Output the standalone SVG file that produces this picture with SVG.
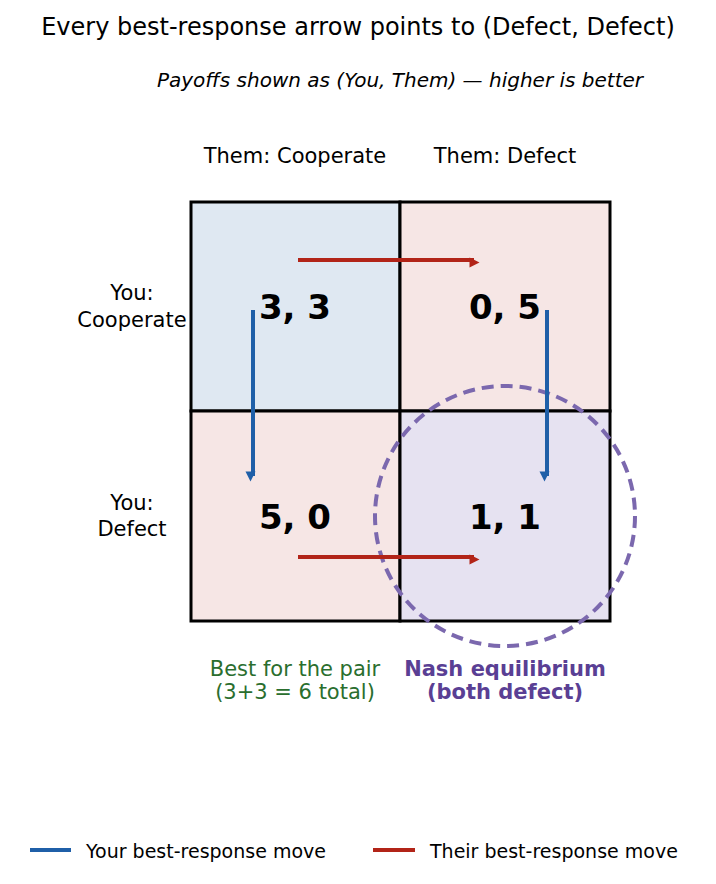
<svg xmlns="http://www.w3.org/2000/svg" width="716" height="884" viewBox="0 0 716 884">
<style>
text{font-family:"DejaVu Sans",sans-serif;fill:#000}
.pay{font-size:34px;font-weight:bold;text-anchor:middle}
.lab{font-size:21px;text-anchor:middle}
.cell{stroke:#000;stroke-width:3}
.blue{stroke:#1f5fa8;stroke-width:4;fill:none}
.red{stroke:#b22418;stroke-width:4;fill:none}
</style>
<defs>
<marker id="ab" viewBox="0 0 10 10" refX="9" refY="5" markerWidth="5" markerHeight="5" markerUnits="userSpaceOnUse" orient="auto" style="overflow:visible"><path d="M0,0L10,5L0,10Z" fill="#1f5fa8" transform="scale(2)"/></marker>
<marker id="ar" viewBox="0 0 10 10" refX="9" refY="5" markerWidth="5" markerHeight="5" markerUnits="userSpaceOnUse" orient="auto" style="overflow:visible"><path d="M0,0L10,5L0,10Z" fill="#b22418" transform="scale(2)"/></marker>
</defs>
<rect width="716" height="884" fill="#fff"/>
<text x="358" y="35" font-size="24" text-anchor="middle">Every best-response arrow points to (Defect, Defect)</text>
<text x="400" y="87" font-size="20" font-style="italic" text-anchor="middle">Payoffs shown as (You, Them) — higher is better</text>
<text class="lab" x="295" y="163">Them: Cooperate</text>
<text class="lab" x="505" y="163">Them: Defect</text>
<text class="lab" x="132" y="300">You:</text>
<text class="lab" x="132" y="327">Cooperate</text>
<text class="lab" x="132" y="510">You:</text>
<text class="lab" x="132" y="536">Defect</text>
<g id="cell-cc"><rect class="cell" x="191" y="202" width="209" height="209" fill="#dfe8f2"/><text class="pay" x="295" y="319">3, 3</text></g>
<g id="cell-cd"><rect class="cell" x="400" y="202" width="210" height="209" fill="#f6e6e5"/><text class="pay" x="505" y="319">0, 5</text></g>
<g id="cell-dc"><rect class="cell" x="191" y="411" width="209" height="210" fill="#f6e6e5"/><text class="pay" x="295" y="529">5, 0</text></g>
<g id="cell-dd"><rect class="cell" x="400" y="411" width="210" height="210" fill="#e6e2f1"/><text class="pay" x="505" y="529">1, 1</text></g>
<g id="nash"><circle cx="505" cy="516" r="130" fill="none" stroke="#7b68ae" stroke-width="4" stroke-dasharray="12,7"/></g>
<g id="connectors">
<line class="red" x1="298" y1="260" x2="474" y2="260" marker-end="url(#ar)"/>
<line class="red" x1="298" y1="557" x2="474" y2="557" marker-end="url(#ar)"/>
<line class="blue" x1="253" y1="310" x2="253" y2="476" marker-end="url(#ab)"/>
<line class="blue" x1="547" y1="310" x2="547" y2="476" marker-end="url(#ab)"/>
</g>
<text x="295" y="676" font-size="21" text-anchor="middle" style="fill:#2a6e2e">Best for the pair</text>
<text x="295" y="699" font-size="21" text-anchor="middle" style="fill:#2a6e2e">(3+3 = 6 total)</text>
<text x="505" y="676" font-size="21" font-weight="bold" text-anchor="middle" style="fill:#5a3f94">Nash equilibrium</text>
<text x="505" y="699" font-size="21" font-weight="bold" text-anchor="middle" style="fill:#5a3f94">(both defect)</text>
<g id="legend">
<line x1="30" y1="850" x2="71" y2="850" stroke="#1f5fa8" stroke-width="4"/>
<text x="86" y="858" font-size="19">Your best-response move</text>
<line x1="373" y1="850" x2="415" y2="850" stroke="#b22418" stroke-width="4"/>
<text x="430" y="858" font-size="19">Their best-response move</text>
</g>
</svg>
